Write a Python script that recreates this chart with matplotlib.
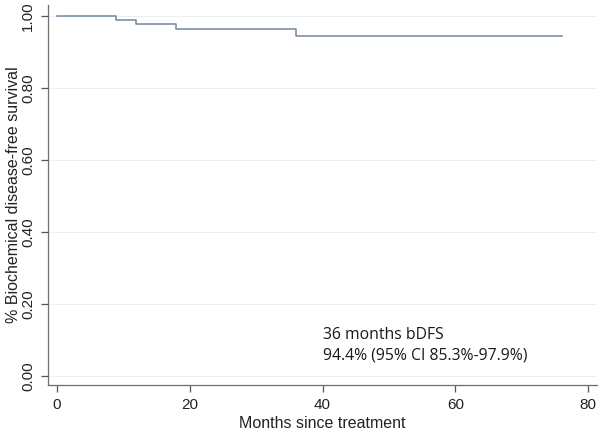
import matplotlib
matplotlib.use('Agg')
import matplotlib.pyplot as plt

# Kaplan-Meier steps
meses = [0, 9, 12, 18, 36, 76]
supervivencia = [1.0, 0.989, 0.978, 0.966, 0.944, 0.944]

yticks = [0.0, 0.2, 0.4, 0.6, 0.8, 1.0]
xticks = [0, 20, 40, 60, 80]

plt.rcParams['font.family'] = ['Liberation Sans', 'DejaVu Sans']

fig = plt.figure(figsize=(6, 4.33), dpi=100)
ax = fig.add_axes([0.0805, 0.111, 0.9145, 0.877])

# grid horizontal muy tenue tipo Stata
for yv in yticks:
    ax.axhline(yv, color='#eaf0f2', lw=0.8, zorder=0)

ax.step(meses, supervivencia, where='post', color='#71879c', lw=1.1, zorder=2)

ax.set_xlim(-1.26, 81.3)
ax.set_ylim(-0.025, 1.031)
ax.set_xticks(xticks)
ax.set_yticks(yticks)
ax.set_yticklabels(['%.2f' % v for v in yticks], rotation=90, va='center')

ax.spines['top'].set_visible(False)
ax.spines['right'].set_visible(False)
for s in ['left', 'bottom']:
    ax.spines[s].set_color('#6e6e6e')
    ax.spines[s].set_linewidth(0.9)
ax.tick_params(direction='out', length=5, width=0.9, color='#555555',
               labelsize=11, labelcolor='#222222', pad=4.5)

ax.set_xlabel('Months since treatment', fontsize=11.5, color='#222222')
ax.set_ylabel('% Biochemical disease-free survival', fontsize=11.5, color='#222222')
ax.xaxis.set_label_coords(0.5, -0.082)
ax.yaxis.set_label_coords(-0.05, 0.5)

fig.text(0.538, 1 - 335 / 433, '36 months bDFS', fontsize=11.3,
         family='Open Sans', color='#1a1a1a', va='center', ha='left')
fig.text(0.538, 1 - 355 / 433, '94.4% (95% CI 85.3%-97.9%)', fontsize=11.3,
         family='Open Sans', color='#1a1a1a', va='center', ha='left')

fig.savefig('out.png', dpi=100)
